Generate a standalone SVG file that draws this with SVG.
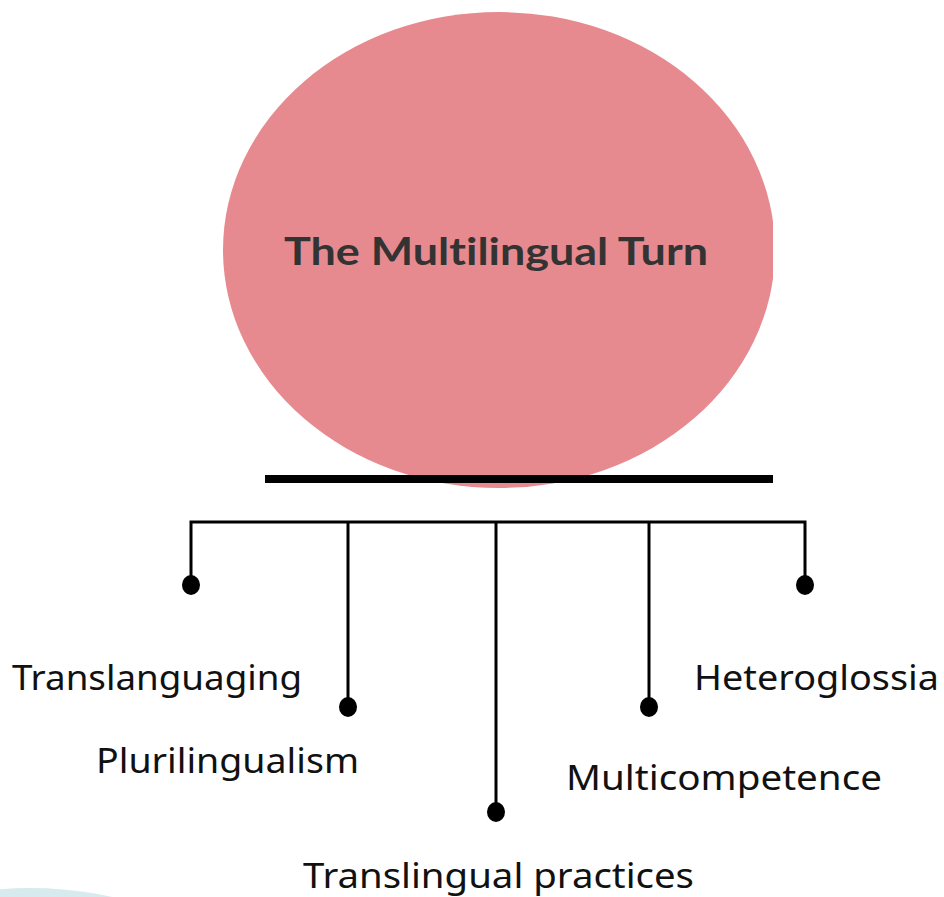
<svg xmlns="http://www.w3.org/2000/svg" width="944" height="897" viewBox="0 0 944 897">
<style>
.lbl{font-family:"Noto Sans","Open Sans",sans-serif;font-size:35px;fill:#111}
.title{font-family:"Lato","Open Sans",sans-serif;font-weight:bold;font-size:38px;fill:#333;font-variant-ligatures:none}
.conn{stroke:#000;stroke-width:3;fill:none}
</style>
<defs>
<clipPath id="cp"><rect x="0" y="0" width="773" height="897"/></clipPath>
</defs>
<rect width="944" height="897" fill="#fff"/>
<ellipse cx="30" cy="960" rx="170" ry="72" fill="#d7eaed"/>
<g id="center">
<ellipse cx="499" cy="250" rx="276" ry="238" fill="#e68a90" clip-path="url(#cp)"/>
<text class="title" x="496" y="265" text-anchor="middle" textLength="424" lengthAdjust="spacingAndGlyphs">The Multilingual Turn</text>
</g>
<g id="connectors">
<rect x="265" y="475" width="508" height="8" fill="#000"/>
<polyline class="conn" points="191,585 191,522 805,522 805,585"/>
<line class="conn" x1="348" y1="522" x2="348" y2="707"/>
<line class="conn" x1="496" y1="522" x2="496" y2="812"/>
<line class="conn" x1="649" y1="522" x2="649" y2="707"/>
<ellipse cx="191" cy="585" rx="9" ry="10" fill="#000"/>
<ellipse cx="348" cy="707" rx="9" ry="10" fill="#000"/>
<ellipse cx="496" cy="812" rx="9" ry="10" fill="#000"/>
<ellipse cx="649" cy="707" rx="9" ry="10" fill="#000"/>
<ellipse cx="805" cy="585" rx="9" ry="10" fill="#000"/>
</g>
<g id="n-translanguaging"><text class="lbl" x="12" y="690" textLength="290" lengthAdjust="spacingAndGlyphs">Translanguaging</text></g>
<g id="n-plurilingualism"><text class="lbl" x="96" y="773" textLength="263" lengthAdjust="spacingAndGlyphs">Plurilingualism</text></g>
<g id="n-translingual"><text class="lbl" x="303" y="888" textLength="391" lengthAdjust="spacingAndGlyphs">Translingual practices</text></g>
<g id="n-multicompetence"><text class="lbl" x="566" y="790" textLength="316" lengthAdjust="spacingAndGlyphs">Multicompetence</text></g>
<g id="n-heteroglossia"><text class="lbl" x="694" y="690" textLength="245" lengthAdjust="spacingAndGlyphs">Heteroglossia</text></g>
</svg>
